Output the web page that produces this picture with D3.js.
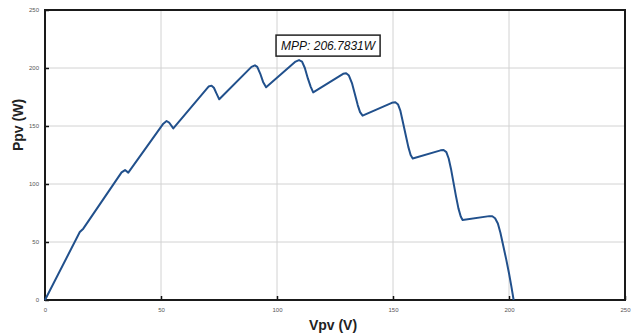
<!DOCTYPE html>
<html>
<head>
<meta charset="utf-8">
<script src="https://cdn.jsdelivr.net/npm/d3@7"></script>
<style>
  body { margin: 0; background: #fff; }
  svg { display: block; }
</style>
</head>
<body>
<div id="chart"></div>
<script>
// P-V curve (V in volts, P in watts)
const voltage = [0, 15, 16.5, 33, 34.5, 35.9, 51, 52.4, 53.5, 55.3,
  70.5, 71.8, 72.8, 73.8, 75.1,
  89, 90.5, 91.5, 92.8, 94, 95.3,
  108, 109.5, 110.8, 112, 113.3, 114.5, 115.6,
  128.5, 129.8, 131, 132.3, 133.5, 134.8, 135.8, 136.9,
  149.5, 151, 152.2, 153.2, 154.3, 155.5, 156.6, 157.6, 158.5,
  170.5, 171.8, 173, 174, 175, 176, 177.1, 178.2, 179.2, 180,
  191.5, 192.8, 194, 195.2, 196.3, 197.5, 198.8, 200, 201, 202]
const power = [0, 58.6, 61.5, 110, 112, 109.8, 152, 154.3, 153, 148,
  184, 184.8, 183, 178.5, 173,
  201, 202.3, 201, 195, 188, 183.4,
  205.5, 206.8, 205.5, 200, 191, 184, 179,
  195, 195.5, 193.5, 187, 178, 168, 162, 158.9,
  170, 170.4, 168.5, 163, 153, 142, 132, 125, 122,
  129, 129.3, 127.5, 122, 113, 102, 90, 79, 72, 69,
  72.3, 72.2, 70.5, 66, 58, 47, 35, 23, 12, 0]
const xTicks = [0, 50, 100, 150, 200, 250]
const yTicks = [0, 50, 100, 150, 200, 250]
const mppLabel = "MPP: 206.7831W"
const mppPoint = [109.5, 206.8]

const width = 634, height = 336
const margin = { top: 10, right: 9, bottom: 36, left: 45 }

const svg = d3.select("#chart").append("svg")
  .attr("width", width)
  .attr("height", height)

const x = d3.scaleLinear().domain([0, 250]).range([margin.left, width - margin.right])
const y = d3.scaleLinear().domain([0, 250]).range([height - margin.bottom, margin.top])

// grid
svg.append("g").selectAll("line").data(xTicks.slice(1, -1)).enter().append("line")
  .attr("x1", d => x(d)).attr("x2", d => x(d))
  .attr("y1", y(0)).attr("y2", y(250))
  .attr("stroke", "#d2d2d2").attr("stroke-width", 1)
svg.append("g").selectAll("line").data(yTicks.slice(1, -1)).enter().append("line")
  .attr("y1", d => y(d)).attr("y2", d => y(d))
  .attr("x1", x(0)).attr("x2", x(250))
  .attr("stroke", "#d2d2d2").attr("stroke-width", 1)

// axes
const xAxis = svg.append("g")
  .attr("transform", `translate(0,${y(0)})`)
  .call(d3.axisBottom(x).tickValues(xTicks).tickSizeInner(-4).tickSizeOuter(0).tickPadding(8))
const yAxis = svg.append("g")
  .attr("transform", `translate(${x(0)},0)`)
  .call(d3.axisLeft(y).tickValues(yTicks).tickSizeInner(-4).tickSizeOuter(0).tickPadding(6))

;[xAxis, yAxis].forEach(a => {
  a.select(".domain").remove()
  a.selectAll(".tick line").attr("stroke", "#111").attr("stroke-width", 1.5)
  a.selectAll(".tick text")
    .attr("fill", "#555")
    .style("font-family", "Arial, 'Liberation Sans', sans-serif")
    .style("font-size", "6px")
})

// frame
svg.append("rect")
  .attr("x", x(0)).attr("y", y(250))
  .attr("width", x(250) - x(0)).attr("height", y(0) - y(250))
  .attr("fill", "none").attr("stroke", "#1a1a1a").attr("stroke-width", 2)

// curve
const pts = voltage.map((v, i) => [v, power[i]])
const line = d3.line()
  .x(d => x(d[0]))
  .y(d => y(d[1]))

svg.append("path")
  .datum(pts)
  .attr("d", line)
  .attr("fill", "none")
  .attr("stroke", "#21508c")
  .attr("stroke-width", 2)
  .attr("stroke-linejoin", "round")

// MPP label
const lab = svg.append("g")
  .attr("transform", `translate(${x(mppPoint[0]) - 23},${y(mppPoint[1]) - 25})`)
const labText = lab.append("text")
  .attr("x", 5).attr("y", 15)
  .style("font-family", "Arial, 'Liberation Sans', sans-serif")
  .style("font-style", "italic")
  .style("font-size", "12px")
  .attr("fill", "#111")
  .text(mppLabel)
const tw = labText.node().getComputedTextLength()
lab.insert("rect", "text")
  .attr("x", 0).attr("y", 0)
  .attr("width", tw + 10).attr("height", 21)
  .attr("fill", "#fff").attr("stroke", "#222").attr("stroke-width", 1.5)

// axis labels
svg.append("text")
  .attr("x", 333).attr("y", 330)
  .attr("text-anchor", "middle")
  .style("font-family", "Arial, 'Liberation Sans', sans-serif")
  .style("font-weight", "bold")
  .style("font-size", "14px")
  .attr("fill", "#222")
  .text("Vpv (V)")
svg.append("text")
  .attr("transform", "translate(23,125) rotate(-90)")
  .attr("text-anchor", "middle")
  .style("font-family", "Arial, 'Liberation Sans', sans-serif")
  .style("font-weight", "bold")
  .style("font-size", "14px")
  .attr("fill", "#222")
  .text("Ppv (W)")
</script>
</body>
</html>
